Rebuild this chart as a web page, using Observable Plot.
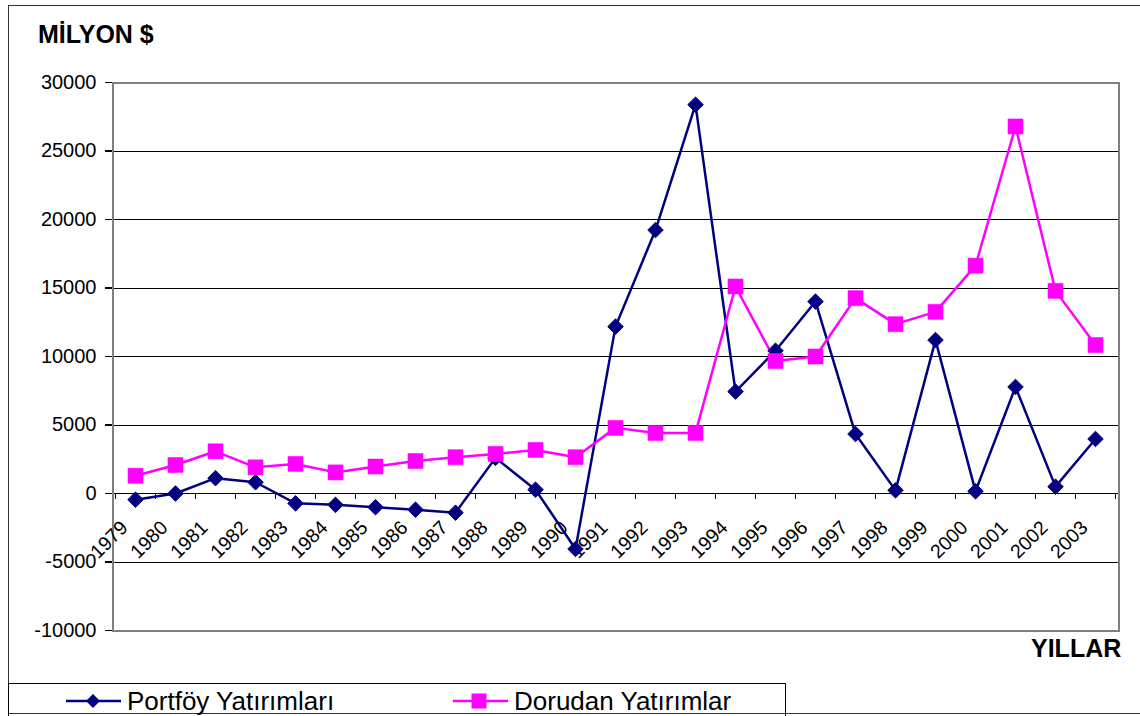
<!DOCTYPE html>
<html>
<head>
<meta charset="utf-8">
<script src="https://cdn.jsdelivr.net/npm/d3@7"></script>
<script src="https://cdn.jsdelivr.net/npm/@observablehq/plot@0.6"></script>
<style>
  html, body { margin: 0; padding: 0; background: #fff; }
  #wrap { position: relative; width: 1140px; height: 716px; overflow: hidden; font-family: "Liberation Sans", Arial, sans-serif; }
  #wrap svg.plot { position: absolute; left: 0; top: 0; }
  #frame { position: absolute; left: 8px; top: 5px; width: 1150px; height: 709px; border: 1.5px solid #333; box-sizing: border-box; }
  #title { position: absolute; left: 38px; top: 20px; font-weight: bold; font-size: 25px; color: #000; }
  #xlab { position: absolute; left: 1031px; top: 634px; font-weight: bold; font-size: 25px; color: #000; }
  #legend { position: absolute; left: 8px; top: 683px; width: 778px; height: 40px; border: 1px solid #000; box-sizing: border-box; font-size: 26px; }
  .item { position: absolute; top: 0; height: 34px; display: flex; align-items: center; }
</style>
</head>
<body>
<div id="wrap">
  <div id="frame"></div>
  <div id="title">MİLYON $</div>
  <div id="xlab">YILLAR</div>
  <div id="legend"></div>
</div>
<script>
const years = ["1979","1980","1981","1982","1983","1984","1985","1986","1987","1988","1989","1990","1991","1992","1993","1994","1995","1996","1997","1998","1999","2000","2001","2002","2003"];
const portfoy = [-450, 0, 1120, 820, -720, -830, -1000, -1180, -1400, 2600, 280, -4050, 12180, 19230, 28380, 7440, 10420, 14010, 4340, 230, 11200, 160, 7780, 500, 3980];
const dogrudan = [1300, 2080, 3080, 1910, 2160, 1540, 1970, 2370, 2650, 2890, 3180, 2650, 4790, 4420, 4420, 15110, 9670, 10000, 14260, 12360, 13260, 16630, 26790, 14790, 10840];
const yTicks = [-10000, -5000, 0, 5000, 10000, 15000, 20000, 25000, 30000];
const seriesNames = ["Portföy Yatırımları", "Dorudan Yatırımlar"];
const colors = ["#000080", "#FF00FF"];

const W = 1140, H = 716, mL = 112, mR = 22, mT = 82, mB = 86;
const step = (W - mL - mR) / years.length;

const pData = years.map((y, i) => ({year: y, value: portfoy[i]}));
const dData = years.map((y, i) => ({year: y, value: dogrudan[i]}));

const font = "'Liberation Sans', Arial, sans-serif";

const chart = Plot.plot({
  width: W, height: H,
  marginLeft: mL, marginRight: mR, marginTop: mT, marginBottom: mB,
  style: {fontFamily: font, background: "transparent", color: "#000"},
  x: {type: "point", domain: years, padding: 0.5, axis: null},
  y: {domain: [-10000, 30000], axis: null},
  marks: [
    Plot.ruleY(yTicks.filter(d => d > -10000 && d < 30000), {y: d => d, stroke: "#000", strokeWidth: 1, shapeRendering: "crispEdges"}),
    Plot.frame({stroke: "#808080", strokeWidth: 2, shapeRendering: "crispEdges"}),
    Plot.axisY({ticks: yTicks, label: null, tickFormat: d => String(d), tickSize: 7, tickPadding: 9, fontSize: 20, line: true, stroke: "#000", strokeWidth: 1.5, fill: "#000", shapeRendering: "crispEdges"}),
    Plot.ruleX(years, {x: d => d, y1: 0, y2: -450, dx: -step / 2, stroke: "#000", strokeWidth: 1, shapeRendering: "crispEdges"}),
    Plot.ruleX([years[years.length - 1]], {x: d => d, y1: 0, y2: -450, dx: step / 2, stroke: "#000", strokeWidth: 1, shapeRendering: "crispEdges"}),
    Plot.text(years, {x: d => d, y: 0, text: d => d, rotate: -45, textAnchor: "end", dx: -11, dy: 31, fontSize: 19.5, fill: "#000"}),
    Plot.line(pData, {x: "year", y: "value", stroke: colors[0], strokeWidth: 2.5}),
    Plot.line(dData, {x: "year", y: "value", stroke: colors[1], strokeWidth: 2.5}),
    Plot.dot(pData, {x: "year", y: "value", symbol: "diamond2", r: 7, fill: colors[0], stroke: colors[0], strokeWidth: 1}),
    Plot.dot(dData, {x: "year", y: "value", symbol: "square", r: 8.5, fill: colors[1], stroke: colors[1], strokeWidth: 0.5})
  ]
});
chart.classList.add("plot");
document.getElementById("wrap").insertBefore(chart, document.getElementById("title"));

// legend
const legend = document.getElementById("legend");
const items = [
  {left: 56, name: seriesNames[0], color: colors[0], sym: "diamond"},
  {left: 443, name: seriesNames[1], color: colors[1], sym: "square"}
];
items.forEach(it => {
  const div = document.createElement("div");
  div.className = "item";
  div.style.left = it.left + "px";
  const marker = it.sym === "diamond"
    ? `<polygon points="28,7 35,14 28,21 21,14" fill="${it.color}"/>`
    : `<rect x="19.5" y="6.5" width="15" height="15" fill="${it.color}"/>`;
  div.innerHTML = `<svg width="58" height="28" style="margin-right:4px"><line x1="1" y1="14" x2="56" y2="14" stroke="${it.color}" stroke-width="2.5"/>${marker}</svg><span>${it.name}</span>`;
  legend.appendChild(div);
});
</script>
</body>
</html>
